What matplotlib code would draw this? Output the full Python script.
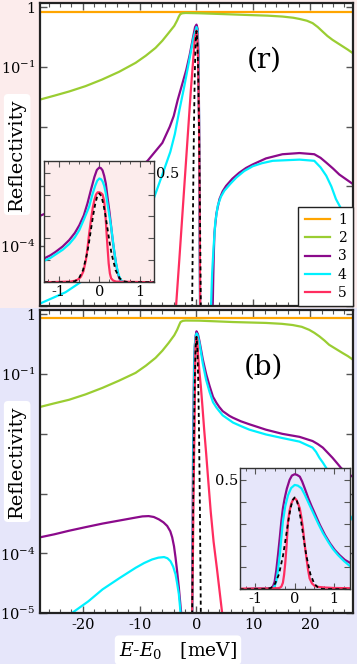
import numpy as np
import matplotlib.pyplot as plt
from matplotlib.patches import Rectangle
from matplotlib.ticker import FixedLocator, FixedFormatter, MultipleLocator, NullLocator

plt.rcParams['font.family'] = ['DejaVu Serif']
plt.rcParams['mathtext.fontset'] = 'dejavuserif'
plt.rcParams['axes.unicode_minus'] = False

# ---------------- data (E in meV, reflectivity as log10 in main panels) ----------------
labels = ['1', '2', '3', '4', '5']

# panel (r)
r_orange_E = [-27.5, 27.5]
r_orange_R = [0.85, 0.85]

r_green_E = [-27.5, -25, -22.4, -19.5, -16.6, -13.6, -10.7, -8.9, -7.2, -6.0, -4.9, -3.9, -3.4, -3.1,
             -2.85, -2.5, -1.9, 0.5, 5, 9.3, 12.5, 15.1, 17, 18.1, 19.4, 20.4, 21.3, 22.2, 23.0,
             23.9, 24.8, 25.7, 26.6, 27.5]
r_green_lg = [-1.545, -1.48, -1.41, -1.32, -1.21, -1.08, -0.93, -0.81, -0.68, -0.56, -0.43, -0.31, -0.22, -0.155,
              -0.115, -0.10, -0.095, -0.10, -0.115, -0.13, -0.14, -0.155, -0.175, -0.195, -0.225, -0.265, -0.33, -0.41, -0.48,
              -0.545, -0.60, -0.655, -0.71, -0.77]

r_purple_E = [-27.5, -20, -15, -10, -8.6, -6.0, -4.7, -4.0, -3.3, -2.4, -1.8, -1.2, -0.6, -0.25,
              0, 0.2, 0.35, 0.45, 0.55, 0.65, 2.5, 2.86, 2.95, 3.05, 3.16, 3.5, 4.04, 4.6, 5.2, 6.3, 7.5,
              8.7, 9.9, 12.2, 15.1, 18.1, 20.7, 21.8, 22.8, 24.0, 25.1, 26.3, 27.5]
r_purple_lg = [-3.49, -3.2, -2.97, -2.68, -2.57, -2.27, -2.0, -1.82, -1.55, -1.25, -1.05, -0.8, -0.5, -0.33,
               -0.29, -0.36, -0.8, -1.8, -3.5, -5.5, -5.8, -4.96, -4.5, -4.1, -3.77, -3.45, -3.21, -3.08, -2.99, -2.87, -2.77,
               -2.69, -2.63, -2.53, -2.46, -2.44, -2.46, -2.52, -2.6, -2.7, -2.8, -2.88, -2.96]

r_cyan_E = [-27.5, -23, -18, -14, -10, -7.5, -5.7, -4.6, -3.8, -3.0, -2.2, -1.6, -1.0, -0.5,
            0, 0.2, 0.35, 0.45, 0.55, 0.65, 2.4, 2.57, 2.75, 2.98, 3.3, 3.74, 4.3, 4.9, 6.0, 7.0, 8.4,
            9.9, 11.5, 13.4, 18.1, 20.7, 21.8, 22.8, 23.7, 24.5, 25.4, 26.3, 27.5]
r_cyan_lg = [-4.96, -4.77, -4.45, -4.1, -3.6, -3.2, -2.72, -2.42, -2.12, -1.72, -1.35, -1.05, -0.75, -0.5,
             -0.33, -0.4, -0.85, -1.9, -3.6, -5.5, -5.8, -4.96, -4.45, -4.05, -3.6, -3.32, -3.17, -3.07, -2.95, -2.85, -2.74,
             -2.66, -2.61, -2.57, -2.55, -2.57, -2.68, -2.82, -3.0, -3.21, -3.37, -3.49, -3.7]

r_red_E = [-4.0, -3.56, -3.0, -2.5, -2.0, -1.5, -1.0, -0.6, -0.3, 0, 0.15, 0.3, 0.45, 0.55, 0.65, 0.75]
r_red_lg = [-5.6, -4.96, -4.2, -3.5, -2.8, -2.1, -1.4, -0.9, -0.55, -0.39, -0.45, -0.9, -2.0, -3.3, -5.0, -6.0]

r_dash_E = [-0.9, -0.75, -0.6, -0.45, -0.3, -0.15, 0, 0.15, 0.3, 0.45, 0.6, 0.75, 0.9]
r_dash_R = [1.4e-7, 1.3e-5, 5.4e-4, 9.7e-3, 7.7e-2, 0.265, 0.40, 0.265, 7.7e-2, 9.7e-3, 5.4e-4, 1.3e-5, 1.4e-7]

# panel (b)
b_orange_E = [-27.5, 27.5]
b_orange_R = [0.86, 0.86]

b_green_E = [-27.5, -25, -22.4, -19.5, -16.5, -13.6, -10.7, -8.9, -7.2, -6.0, -4.9, -3.9, -3.4, -3.0,
             -2.8, -2.4, -1.9, 0.5, 6.4, 12.2, 15.0, 16.9, 18.5, 19.8, 20.7, 21.6, 22.5, 23.3, 24.5,
             25.7, 26.6, 27.5]
b_green_lg = [-1.55, -1.49, -1.43, -1.34, -1.23, -1.11, -0.98, -0.86, -0.73, -0.61, -0.48, -0.35, -0.26, -0.17,
              -0.13, -0.11, -0.105, -0.107, -0.13, -0.145, -0.16, -0.18, -0.21, -0.26, -0.31, -0.37, -0.44, -0.51, -0.58,
              -0.65, -0.70, -0.76]

b_purple_E = [-27.5, -25, -22.4, -19.5, -16.5, -13.6, -10.7, -9.5, -8.4, -7.5, -6.6, -5.8, -5.15, -4.6,
              -4.27, -3.95, -3.68, -3.4, -3.1, -2.9, -2.7, -2.5,
              -0.9, -0.78, -0.7, -0.6, -0.51, -0.42, -0.3, -0.15, 0, 0.25, 0.53, 1.1, 1.7, 2.3, 2.9,
              3.5, 4.0, 4.6, 5.2, 5.8, 6.4, 7.8, 9.3, 12.2, 15.1, 18.1, 20.4, 21.3, 22.2, 23.0, 23.9,
              24.7, 25.4, 26.5, 27.5]
b_purple_lg = [-3.73, -3.68, -3.62, -3.56, -3.5, -3.45, -3.4, -3.38, -3.375, -3.39, -3.43, -3.48, -3.54, -3.63,
               -3.73, -3.88, -4.07, -4.3, -4.57, -4.78, -4.99, -5.6,
               -5.6, -5.2, -3.8, -2.3, -1.45, -0.8, -0.55, -0.36, -0.285, -0.33, -0.45, -0.75, -1.0, -1.2, -1.38,
               -1.48, -1.55, -1.62, -1.66, -1.7, -1.73, -1.79, -1.84, -1.93, -2.0, -2.05, -2.12, -2.17, -2.23, -2.31, -2.4,
               -2.49, -2.57, -2.66, -2.72]

b_cyan_E = [-27.5, -21.8, -19, -16.5, -13.5, -10.7, -9.2, -7.8, -6.7, -5.7, -5.1, -4.56, -4.1, -3.68,
            -3.4, -3.1, -2.8, -2.6,
            -0.8, -0.72, -0.65, -0.55, -0.47, -0.38, -0.3, -0.17, 0, 0.17, 0.5, 1.1, 1.7, 2.3, 2.9,
            3.5, 4.0, 4.6, 5.2, 5.8, 6.4, 7.8, 9.3, 12.2, 15.1, 18.1, 20.4, 21.0, 21.6, 22.2, 22.8,
            23.6, 24.5, 25.5, 26.5, 27.5]
b_cyan_lg = [-5.6, -4.99, -4.8, -4.6, -4.41, -4.24, -4.16, -4.1, -4.07, -4.06, -4.08, -4.13, -4.22, -4.35,
             -4.5, -4.68, -4.99, -5.6,
             -5.6, -5.0, -3.8, -2.3, -1.46, -0.8, -0.51, -0.4, -0.32, -0.34, -0.47, -0.82, -1.1, -1.3, -1.47,
             -1.56, -1.62, -1.69, -1.73, -1.77, -1.81, -1.87, -1.93, -2.01, -2.07, -2.13, -2.23, -2.3, -2.4, -2.48, -2.57,
             -2.75, -2.95, -3.13, -3.29, -3.45]

b_red_E = [-0.9, -0.75, -0.65, -0.55, -0.43, -0.34, -0.27, -0.21, -0.17, -0.085, 0, 0.13, 0.21, 0.3,
           0.5, 0.76, 1.05, 1.35, 1.7, 2.0, 2.5, 3.0, 3.6, 4.5, 5.0]
b_red_lg = [-5.8, -5.0, -4.2, -3.3, -2.4, -1.9, -1.18, -0.72, -0.51, -0.41, -0.38, -0.43, -0.55, -0.7,
            -0.95, -1.2, -1.55, -1.93, -2.33, -2.7, -3.3, -3.8, -4.26, -4.99, -5.4]

b_dash_E = [-0.9, -0.75, -0.6, -0.45, -0.3, -0.15, 0, 0.15, 0.3, 0.45, 0.6, 0.75, 0.9]
b_dash_R = [1.4e-7, 1.3e-5, 5.6e-4, 1.0e-2, 8.0e-2, 0.278, 0.42, 0.278, 8.0e-2, 1.0e-2, 5.6e-4, 1.3e-5, 1.4e-7]

# inset (r), linear scale
ri_purple_x = [-1.35, -1.2, -1.07, -0.9, -0.74, -0.6, -0.49, -0.38, -0.29, -0.2, -0.12, -0.06, 0, 0.04,
               0.08, 0.12, 0.16, 0.2, 0.25, 0.29, 0.33, 0.37, 0.41, 0.45, 0.49, 0.53, 0.57, 0.65, 1.35]
ri_purple_y = [0.109, 0.123, 0.139, 0.163, 0.192, 0.225, 0.26, 0.305, 0.36, 0.425, 0.48, 0.512, 0.523, 0.52,
               0.51, 0.485, 0.45, 0.39, 0.32, 0.255, 0.19, 0.135, 0.086, 0.045, 0.018, 0.007, 0.002, 0.0, 0.0]
ri_cyan_x = [-1.35, -1.2, -1.07, -0.9, -0.74, -0.6, -0.49, -0.37, -0.25, -0.17, -0.1, -0.05, 0, 0.04,
             0.08, 0.12, 0.16, 0.22, 0.29, 0.35, 0.41, 0.47, 0.53, 0.6, 1.35]
ri_cyan_y = [0.098, 0.111, 0.127, 0.148, 0.174, 0.205, 0.238, 0.29, 0.344, 0.40, 0.44, 0.463, 0.473, 0.47,
             0.46, 0.44, 0.405, 0.335, 0.253, 0.165, 0.086, 0.035, 0.01, 0.0, 0.0]
ri_red_x = [-1.35, -0.7, -0.57, -0.5, -0.45, -0.39, -0.33, -0.29, -0.25, -0.2, -0.16, -0.12, -0.08, -0.04,
            0, 0.04, 0.08, 0.12, 0.15, 0.18, 0.2, 0.23, 0.26, 0.29, 0.34, 0.41, 1.35]
ri_red_y = [0.0, 0.003, 0.008, 0.016, 0.026, 0.05, 0.10, 0.155, 0.22, 0.29, 0.34, 0.375, 0.40, 0.41,
            0.41, 0.407, 0.40, 0.37, 0.31, 0.22, 0.165, 0.086, 0.04, 0.018, 0.008, 0.003, 0.0]
ri_dash_x = [-1.35, -0.7, -0.6, -0.5, -0.4, -0.3, -0.25, -0.2, -0.15, -0.1, -0.05, 0,
             0.05, 0.1, 0.15, 0.2, 0.25, 0.3, 0.4, 0.5, 0.6, 0.7, 1.35]
ri_dash_y = [0, 0.0009, 0.0045, 0.018, 0.055, 0.131, 0.185, 0.246, 0.306, 0.357, 0.393, 0.405,
             0.393, 0.357, 0.306, 0.246, 0.185, 0.131, 0.055, 0.018, 0.0045, 0.0009, 0]

# inset (b), linear scale
bi_purple_x = [-1.4, -0.6, -0.55, -0.51, -0.47, -0.425, -0.38, -0.34, -0.3, -0.255, -0.2, -0.13, -0.07, 0,
               0.06, 0.13, 0.19, 0.255, 0.35, 0.43, 0.51, 0.64, 0.77, 0.9, 1.02, 1.15, 1.28, 1.4]
bi_purple_y = [0.0, 0.005, 0.015, 0.035, 0.085, 0.157, 0.235, 0.31, 0.37, 0.416, 0.46, 0.5, 0.52, 0.526,
               0.523, 0.515, 0.493, 0.462, 0.415, 0.38, 0.348, 0.295, 0.249, 0.21, 0.18, 0.155, 0.134, 0.122]
bi_cyan_x = [-1.4, -0.55, -0.51, -0.47, -0.43, -0.38, -0.34, -0.3, -0.24, -0.17, -0.09, 0,
             0.08, 0.17, 0.25, 0.34, 0.47, 0.6, 0.72, 0.85, 0.97, 1.1, 1.25, 1.4]
bi_cyan_y = [0.0, 0.005, 0.015, 0.035, 0.08, 0.157, 0.235, 0.31, 0.38, 0.43, 0.463, 0.477,
             0.474, 0.462, 0.435, 0.40, 0.35, 0.30, 0.257, 0.218, 0.185, 0.157, 0.13, 0.107]
bi_red_x = [-1.4, -0.43, -0.38, -0.34, -0.3, -0.27, -0.24, -0.21, -0.17, -0.13, -0.085, -0.04, 0, 0.04,
            0.08, 0.13, 0.17, 0.21, 0.25, 0.3, 0.34, 0.38, 0.44, 0.51, 0.6, 0.77, 1.0, 1.4]
bi_red_y = [0.003, 0.005, 0.007, 0.012, 0.03, 0.066, 0.12, 0.19, 0.31, 0.36, 0.393, 0.41, 0.416, 0.41,
            0.395, 0.37, 0.33, 0.28, 0.21, 0.142, 0.09, 0.05, 0.027, 0.015, 0.011, 0.008, 0.006, 0.005]
bi_dash_x = [-1.4, -0.7, -0.6, -0.5, -0.4, -0.3, -0.25, -0.2, -0.15, -0.1, -0.05, 0,
             0.05, 0.1, 0.15, 0.2, 0.25, 0.3, 0.4, 0.5, 0.6, 0.7, 1.4]
bi_dash_y = [0, 0.0015, 0.007, 0.025, 0.069, 0.151, 0.207, 0.267, 0.325, 0.375, 0.408, 0.42,
             0.408, 0.375, 0.325, 0.267, 0.207, 0.151, 0.069, 0.025, 0.007, 0.0015, 0]

# ---------------- style ----------------
C_OR = '#ffa500'
C_GR = '#9acd32'
C_PU = '#8b0a8b'
C_CY = '#00f0ff'
C_RE = '#ff2d5f'
PINK = '#fcecec'
LAV = '#e6e6fa'
LW = 1.6
DASH = (0, (2.2, 1.8))

fig = plt.figure(figsize=(3.57, 6.64), dpi=100)
fig.patches.append(Rectangle((0, 0.536), 1, 0.464, transform=fig.transFigure,
                             facecolor=PINK, edgecolor='none', zorder=-10))
fig.patches.append(Rectangle((0, 0), 1, 0.536, transform=fig.transFigure,
                             facecolor=LAV, edgecolor='none', zorder=-10))


def style_main(ax, ytl):
    ax.set_yscale('log')
    ax.set_xlim(-27.5, 27.5)
    ax.set_ylim(1e-5, 10 ** 0.072)
    ax.yaxis.set_major_locator(FixedLocator([1, 1e-1, 1e-2, 1e-3, 1e-4, 1e-5]))
    ax.yaxis.set_major_formatter(FixedFormatter(ytl))
    ax.yaxis.set_minor_locator(NullLocator())
    ax.xaxis.set_major_locator(MultipleLocator(10))
    ax.xaxis.set_minor_locator(MultipleLocator(2))
    ax.tick_params(which='both', direction='in', top=True, right=True, colors='#555555',
                   labelcolor='black', labelsize=10.5)
    ax.tick_params(which='major', length=5, width=1)
    ax.tick_params(which='minor', length=3, width=0.8)
    for s in ax.spines.values():
        s.set_linewidth(1.6)
        s.set_color('#222222')


def draw_main(ax, curves, dE, dR):
    for (E, lg, c), lab in zip(curves, labels):
        R = lg if c == C_OR else 10.0 ** np.asarray(lg)
        ax.plot(E, R, color=c, lw=LW, label=lab)
    ax.plot(dE, dR, color='black', lw=1.3, ls=DASH)


def style_inset(ax, xl, right_label):
    ax.set_xlim(-xl, xl)
    ax.set_ylim(0, 0.553)
    ax.xaxis.set_major_locator(FixedLocator([-1, 0, 1]))
    ax.xaxis.set_minor_locator(MultipleLocator(0.25))
    ax.yaxis.set_major_locator(MultipleLocator(0.1))
    ax.yaxis.set_major_formatter(plt.FuncFormatter(lambda v, p: '0.5' if abs(v - 0.5) < 1e-6 else ''))
    ax.tick_params(which='both', direction='in', top=True, right=True, colors='#555555',
                   labelcolor='black', labelsize=10.5, pad=2)
    ax.tick_params(which='major', length=4, width=0.8)
    ax.tick_params(which='minor', length=2.5, width=0.7)
    if right_label:
        ax.tick_params(axis='y', labelleft=False, labelright=True, pad=1)
    else:
        ax.tick_params(axis='y', pad=1)
    for s in ax.spines.values():
        s.set_linewidth(1.0)
        s.set_color('#333333')


# ---------------- panel (r) ----------------
ax1 = fig.add_axes([0.1120, 0.5392, 0.8768, 0.4563])
draw_main(ax1, [(r_orange_E, r_orange_R, C_OR), (r_green_E, r_green_lg, C_GR),
                (r_purple_E, r_purple_lg, C_PU), (r_cyan_E, r_cyan_lg, C_CY),
                (r_red_E, r_red_lg, C_RE)], r_dash_E, r_dash_R)
style_main(ax1, ['1', r'$10^{-1}$', '', '', r'$10^{-4}$', ''])
ax1.tick_params(axis='x', labelbottom=False)
ax1.text(0.715, 0.81, '(r)', transform=ax1.transAxes, fontsize=20, ha='center', va='center')
leg = ax1.legend(loc='lower right', borderaxespad=0, fontsize=10, handlelength=1.8,
                 handletextpad=0.6, labelspacing=0.3, borderpad=0.45, fancybox=False,
                 framealpha=1, edgecolor='#222222')
leg.get_frame().set_linewidth(1.0)

# ---------------- panel (b) ----------------
ax2 = fig.add_axes([0.1120, 0.0764, 0.8768, 0.4568])
draw_main(ax2, [(b_orange_E, b_orange_R, C_OR), (b_green_E, b_green_lg, C_GR),
                (b_purple_E, b_purple_lg, C_PU), (b_cyan_E, b_cyan_lg, C_CY),
                (b_red_E, b_red_lg, C_RE)], b_dash_E, b_dash_R)
style_main(ax2, ['1', r'$10^{-1}$', '', '', r'$10^{-4}$', r'$10^{-5}$'])
ax2.text(0.715, 0.81, '(b)', transform=ax2.transAxes, fontsize=20, ha='center', va='center')

# ---------------- insets ----------------
ins1 = fig.add_axes([0.1241, 0.5749, 0.3081, 0.1827], facecolor=PINK)
for x, y, c in [(ri_purple_x, ri_purple_y, C_PU), (ri_cyan_x, ri_cyan_y, C_CY), (ri_red_x, ri_red_y, C_RE)]:
    ins1.plot(x, y, color=c, lw=LW)
ins1.plot(ri_dash_x, ri_dash_y, color='black', lw=1.3, ls=DASH)
style_inset(ins1, 1.35, True)

ins2 = fig.add_axes([0.6714, 0.1125, 0.3081, 0.1822], facecolor=LAV)
for x, y, c in [(bi_purple_x, bi_purple_y, C_PU), (bi_cyan_x, bi_cyan_y, C_CY), (bi_red_x, bi_red_y, C_RE)]:
    ins2.plot(x, y, color=c, lw=LW)
ins2.plot(bi_dash_x, bi_dash_y, color='black', lw=1.3, ls=DASH)
style_inset(ins2, 1.4, False)

# ---------------- axis labels ----------------
box = dict(boxstyle='round,pad=0.22', facecolor='white', edgecolor='none')
fig.text(0.048, 0.7673, 'Reflectivity', rotation=90, ha='center', va='center', fontsize=14, bbox=box)
fig.text(0.048, 0.305, 'Reflectivity', rotation=90, ha='center', va='center', fontsize=14, bbox=box)
fig.text(0.4986, 0.021, r'$E$-$E_0$   [meV]', ha='center', va='center', fontsize=13.5, bbox=box)

fig.savefig('out.png', dpi=100)
